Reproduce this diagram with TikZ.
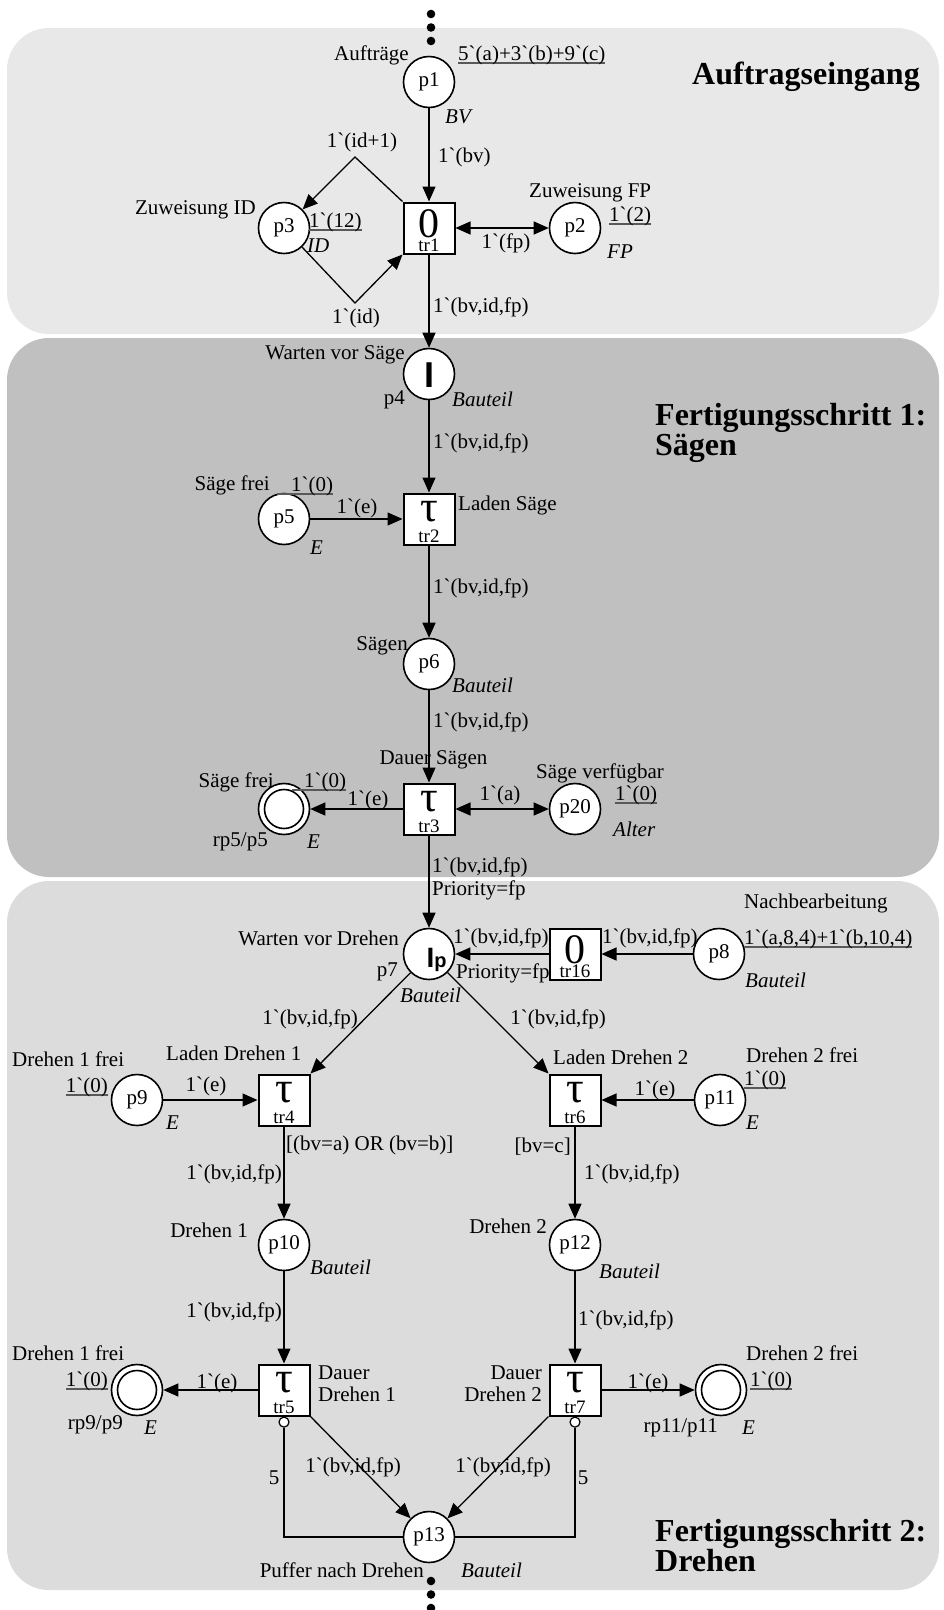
\documentclass[tikz,border=0pt]{standalone}
\usepackage{fontspec}
\newfontfamily\serif{Liberation Serif}
\newfontfamily\glyphfont{Liberation Sans}
\usetikzlibrary{arrows.meta}

\definecolor{paneA}{HTML}{E8E8E8}
\definecolor{paneB}{HTML}{C0C0C0}
\definecolor{paneC}{HTML}{DCDCDC}

% initial marking: text with a grey underline, optionally extended to the left
\newcommand\initmark[2][0pt]{\setbox0=\hbox{#2}%
  \llap{\textcolor{black!65}{\rule[-3.5pt]{#1}{1.1pt}}}%
  \rlap{\textcolor{black!65}{\rule[-3.5pt]{\wd0}{1.1pt}}}\box0}
\newcommand\tausym{{\fontsize{44}{44}\selectfont τ}}
% transition box with its big symbol and its name
\newcommand\mktrans[4]{%
  \node[trans] (#1) at (#2) {};
  \node[bigsym] (#1sym) at ([yshift=#3]#1.center) {#4};
  \node[trname, anchor=south] (#1name) at ([yshift=2.5pt]#1.south) {#1};}

\begin{document}
\begin{tikzpicture}[x=1pt,y=-1pt,
  every node/.style={inner sep=0pt, font=\serif\fontsize{21}{22}\selectfont},
  place/.style={circle, draw, line width=1.6pt, fill=white, minimum size=51pt},
  trans/.style={rectangle, draw, line width=2pt, fill=white, minimum size=51pt},
  bigsym/.style={font=\serif\fontsize{42}{42}\selectfont},
  trname/.style={font=\serif\fontsize{19}{19}\selectfont},
  heading/.style={font=\serif\fontsize{32}{32}\selectfont\bfseries},
  typ/.style={font=\serif\fontsize{21}{22}\selectfont\itshape},
  flow/.style={line width=1.3pt, -{Triangle[length=15pt,width=13pt]}},
  biflow/.style={line width=1.3pt, {Triangle[length=15pt,width=13pt]}-{Triangle[length=15pt,width=13pt]}},
  inhline/.style={line width=1.3pt},
  inhib/.style={circle, draw, line width=1.2pt, fill=white, minimum size=10pt, anchor=north},
]
\useasboundingbox (0,0) rectangle (944,1610);

% section panels
\fill[paneA, rounded corners=42pt] (7,28) rectangle (939,334);
\fill[paneB, rounded corners=42pt] (7,338) rectangle (939,877);
\fill[paneC, rounded corners=42pt] (7,881) rectangle (939,1590);

% continuation dots
\foreach \yy in {14,27.5,41} \fill (431,\yy) circle[radius=4.3pt];
\foreach \yy in {1581,1594.5,1608} \fill (431,\yy) circle[radius=4.3pt];

% places
\node[place] (p1) at (429,82) {p1};
\node[place] (p3) at (284,228) {p3};
\node[place] (p2) at (575,228) {p2};
\node[place] (p4) at (429,374) {};
\node (p4sym) at (429,375) {\glyphfont\bfseries\fontsize{36}{36}\selectfont I};
\node[place] (p5) at (284,519) {p5};
\node[place] (p6) at (429,664) {p6};
\node[place] (rp5) at (284,809) {};
\draw[line width=1.6pt] (rp5.center) circle[radius=19.5pt];
\node[place] (p20) at (575,809) {p20};
\node[place] (p7) at (429,954) {};
\node[anchor=base west] (p7sym) at (426.5,967) {\glyphfont\bfseries\fontsize{28}{28}\selectfont I\fontsize{20}{20}\selectfont p};
\node[place] (p8) at (719,954) {p8};
\node[place] (p9) at (137,1100) {p9};
\node[place] (p11) at (720,1100) {p11};
\node[place] (p10) at (284,1245) {p10};
\node[place] (p12) at (575,1245) {p12};
\node[place] (rp9) at (137,1390) {};
\draw[line width=1.6pt] (rp9.center) circle[radius=19.5pt];
\node[place] (rp11) at (721,1390) {};
\draw[line width=1.6pt] (rp11.center) circle[radius=19.5pt];
\node[place] (p13) at (429,1537) {p13};

% transitions
\mktrans{tr1}{429,228}{4.5pt}{0}
\mktrans{tr2}{429,519}{7pt}{\tausym}
\mktrans{tr3}{429,809}{7pt}{\tausym}
\mktrans{tr16}{575,954}{4.5pt}{0}
\mktrans{tr4}{284,1100}{7pt}{\tausym}
\mktrans{tr6}{575,1100}{7pt}{\tausym}
\mktrans{tr5}{284,1390}{7pt}{\tausym}
\mktrans{tr7}{575,1390}{7pt}{\tausym}
\node[inhib] (inh5) at (tr5.south) {};
\node[inhib] (inh7) at (tr7.south) {};

% bends of the ID loop
\coordinate (a1) at (355,157);
\coordinate (a2) at (355,303);

% arcs
\draw[flow] (p1) -- (tr1);
\draw[flow] (tr1.north west) -- (a1) -- (p3);
\draw[flow] (p3) -- (a2) -- (tr1.south west);
\draw[biflow] (tr1) -- (p2);
\draw[flow] (tr1) -- (p4);
\draw[flow] (p4) -- (tr2);
\draw[flow] (p5) -- (tr2);
\draw[flow] (tr2) -- (p6);
\draw[flow] (p6) -- (tr3);
\draw[flow] (tr3) -- (rp5);
\draw[biflow] (tr3) -- (p20);
\draw[flow] (tr3) -- (p7);
\draw[flow] (p8) -- (tr16);
\draw[flow] (tr16) -- (p7);
\draw[flow] (p7) -- (tr4.north east);
\draw[flow] (p7) -- (tr6.north west);
\draw[flow] (p9) -- (tr4);
\draw[flow] (p11) -- (tr6);
\draw[flow] (tr4) -- (p10);
\draw[flow] (tr6) -- (p12);
\draw[flow] (p10) -- (tr5);
\draw[flow] (p12) -- (tr7);
\draw[flow] (tr5) -- (rp9);
\draw[flow] (tr7) -- (rp11);
\draw[flow] (tr5.south east) -- (p13);
\draw[flow] (tr7.south west) -- (p13);
\draw[inhline] (inh5) |- (p13);
\draw[inhline] (inh7) |- (p13);

% --- Auftragseingang
\node[heading, anchor=base west] (hA) at (692,84) {Auftragseingang};
\node[anchor=east] (lp1) at (409,55) {Aufträge};
\node[anchor=west] (mp1) at (458,55) {\initmark{5`(a)+3`(b)+9`(c)}};
\node[typ, anchor=west] (cp1) at (445,117) {BV};
\node (e1) at (362,142) {1`(id+1)};
\node[anchor=west] (e2) at (438,157) {1`(bv)};
\node[anchor=east] (lp3) at (256,210) {Zuweisung ID};
\node[anchor=west] (mp3) at (309,222) {\initmark{1`(12)}};
\node[typ, anchor=west] (cp3) at (307,246) {ID};
\node (e3) at (506,243) {1`(fp)};
\node[anchor=west] (lp2) at (529,193) {Zuweisung FP};
\node[anchor=west] (mp2) at (609,216) {\initmark{1`(2)}};
\node[typ, anchor=west] (cp2) at (607,252) {FP};
\node (e4) at (356,318) {1`(id)};
\node[anchor=west] (e5) at (433,307) {1`(bv,id,fp)};

% --- Fertigungsschritt 1
\node[heading, anchor=base west] (hB1) at (655,425) {Fertigungsschritt 1:};
\node[heading, anchor=base west] (hB2) at (655,455) {Sägen};
\node[anchor=east] (lp4) at (405,355) {Warten vor Säge};
\node[anchor=east] (np4) at (405,400) {p4};
\node[typ, anchor=west] (cp4) at (452,399) {Bauteil};
\node[anchor=west] (e6) at (433,443) {1`(bv,id,fp)};
\node[anchor=east] (lp5) at (270,485) {Säge frei};
\node[anchor=west] (mp5) at (291,486) {\initmark[14pt]{1`(0)}};
\node (e7) at (357,508) {1`(e)};
\node[typ, anchor=west] (cp5) at (310,548) {E};
\node[anchor=west] (ltr2) at (458,505) {Laden Säge};
\node[anchor=west] (e8) at (433,588) {1`(bv,id,fp)};
\node[anchor=east] (lp6) at (408,646) {Sägen};
\node[typ, anchor=west] (cp6) at (452,685) {Bauteil};
\node[anchor=west] (e9) at (433,722) {1`(bv,id,fp)};
\node (ltr3) at (433.5,760) {Dauer Sägen};
\node[anchor=east] (lrp5) at (274,782) {Säge frei};
\node[anchor=west] (mrp5) at (304,782) {\initmark[12pt]{1`(0)}};
\node (e10) at (368,800) {1`(e)};
\node[anchor=east] (nrp5) at (268,842) {rp5/p5};
\node[typ, anchor=west] (crp5) at (307,842) {E};
\node[anchor=west] (lp20) at (536,773) {Säge verfügbar};
\node (e11) at (500,795) {1`(a)};
\node[anchor=west] (mp20) at (615,795) {\initmark{1`(0)}};
\node[typ, anchor=west] (cp20) at (613,829) {Alter};
\node[anchor=west] (e12a) at (432,867) {1`(bv,id,fp)};
\node[anchor=west] (e12b) at (432,890) {Priority=fp};

% --- Fertigungsschritt 2
\node[anchor=west] (lp8) at (744,903) {Nachbearbeitung};
\node[anchor=east] (lp7) at (399,938) {Warten vor Drehen};
\node[anchor=east] (np7) at (398,972) {p7};
\node[typ, anchor=west] (cp7) at (400,995) {Bauteil};
\node[anchor=west] (e13a) at (453,938) {1`(bv,id,fp)};
\node[anchor=west] (e13b) at (456,973) {Priority=fp};
\node[anchor=west] (e14) at (602,938) {1`(bv,id,fp)};
\node[anchor=west] (mp8) at (744,939) {\initmark{1`(a,8,4)+1`(b,10,4)}};
\node[typ, anchor=west] (cp8) at (745,980) {Bauteil};
\node (e15) at (310,1019) {1`(bv,id,fp)};
\node (e16) at (558,1019) {1`(bv,id,fp)};
\node[anchor=west] (ltr4) at (166,1053) {Laden Drehen 1};
\node[anchor=west] (ltr6) at (553,1057) {Laden Drehen 2};
\node[anchor=west] (lp9) at (12,1059) {Drehen 1 frei};
\node[anchor=east] (mp9) at (108,1087) {\initmark{1`(0)}};
\node (e17) at (206,1086) {1`(e)};
\node[typ, anchor=west] (cp9) at (166,1123) {E};
\node[anchor=west] (lp11) at (746,1055) {Drehen 2 frei};
\node[anchor=west] (mp11) at (744,1080) {\initmark{1`(0)}};
\node (e18) at (655,1090) {1`(e)};
\node[typ, anchor=west] (cp11) at (746,1123) {E};
\node[anchor=west] (gtr4) at (286,1145) {[(bv=a) OR (bv=b)]};
\node[anchor=east] (gtr6) at (571,1147) {[bv=c]};
\node[anchor=east] (e19) at (282,1174) {1`(bv,id,fp)};
\node[anchor=west] (e20) at (584,1174) {1`(bv,id,fp)};
\node[anchor=east] (lp10) at (248,1230) {Drehen 1};
\node[typ, anchor=west] (cp10) at (310,1267) {Bauteil};
\node[anchor=east] (lp12) at (547,1226) {Drehen 2};
\node[typ, anchor=west] (cp12) at (599,1271) {Bauteil};
\node[anchor=east] (e21) at (282,1312) {1`(bv,id,fp)};
\node[anchor=west] (e22) at (578,1320) {1`(bv,id,fp)};
\node[anchor=west] (lrp9) at (12,1353) {Drehen 1 frei};
\node[anchor=east] (mrp9) at (108,1381) {\initmark{1`(0)}};
\node (e23) at (217,1383) {1`(e)};
\node[anchor=east] (nrp9) at (123,1425) {rp9/p9};
\node[typ, anchor=west] (crp9) at (144,1428) {E};
\node[anchor=west, align=left] (ltr5) at (318,1384) {Dauer\\Drehen 1};
\node[anchor=east, align=right] (ltr7) at (542,1384) {Dauer\\Drehen 2};
\node (e24) at (648,1383) {1`(e)};
\node[anchor=west] (lrp11) at (746,1353) {Drehen 2 frei};
\node[anchor=west] (mrp11) at (750,1381) {\initmark{1`(0)}};
\node[anchor=east] (nrp11) at (718,1428) {rp11/p11};
\node[typ, anchor=west] (crp11) at (742,1428) {E};
\node (e25) at (353,1467) {1`(bv,id,fp)};
\node (e26) at (503,1467) {1`(bv,id,fp)};
\node (w5) at (274,1478) {5};
\node (w7) at (583,1478) {5};
\node[anchor=east] (lp13) at (424,1570) {Puffer nach Drehen};
\node[typ, anchor=west] (cp13) at (461,1570) {Bauteil};
\node[heading, anchor=base west] (hC1) at (655,1541) {Fertigungsschritt 2:};
\node[heading, anchor=base west] (hC2) at (655,1571) {Drehen};
\end{tikzpicture}
\end{document}
